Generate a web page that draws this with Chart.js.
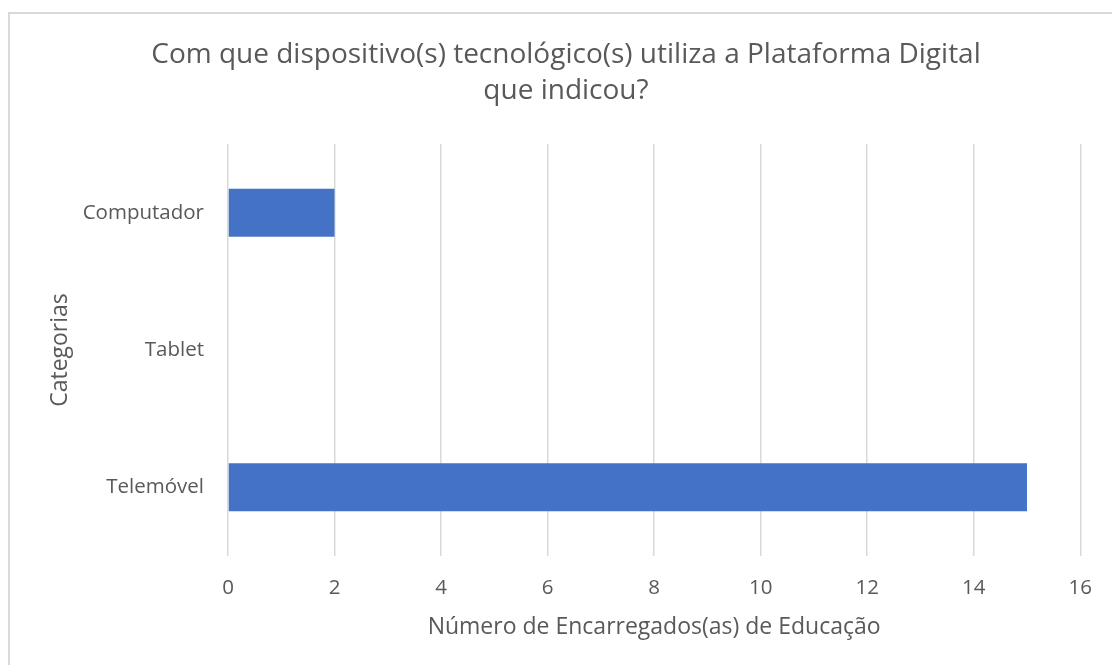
<!DOCTYPE html>
<html>
<head>
<meta charset="utf-8">
<script src="https://cdn.jsdelivr.net/npm/chart.js@4"></script>
<style>
  html, body { margin: 0; padding: 0; background: #fff; }
  .wrap { position: relative; width: 1112px; height: 665px; overflow: hidden; }
  .frame { position: absolute; left: 8px; top: 12px; width: 1200px; height: 800px;
           border-left: 2px solid #d9d9d9; border-top: 2px solid #d9d9d9; }
  canvas { position: absolute; left: 0; top: 0; }
</style>
</head>
<body>
<div class="wrap">
  <div class="frame"></div>
  <canvas id="deviceChart" width="1112" height="665"></canvas>
</div>
<script>
const categories = ['Computador', 'Tablet', 'Telemóvel'];
const counts = [2, 0, 15];
const titleLines = ['Com que dispositivo(s) tecnológico(s) utiliza a Plataforma Digital', 'que indicou?'];
const xTitle = 'Número de Encarregados(as) de Educação';
const yTitle = 'Categorias';

const textColor = '#595959';
const fontFamily = '"Open Sans", sans-serif';

const canvas = document.getElementById('deviceChart');

new Chart(canvas, {
    type: 'bar',
    data: {
        labels: categories,
        datasets: [{
            data: counts,
            backgroundColor: '#4472C4',
            borderWidth: 0,
            categoryPercentage: 1,
            barPercentage: 0.35
        }]
    },
    options: {
        indexAxis: 'y',
        responsive: false,
        animation: false,
        // left padding shifts the title centre to match the original
        layout: { padding: { left: 48, right: 28, top: 0, bottom: 0 } },
        plugins: {
            legend: { display: false },
            tooltip: { enabled: false },
            title: {
                display: true,
                text: titleLines,
                color: textColor,
                font: { family: fontFamily, size: 28, weight: 'normal', lineHeight: 1.286 },
                padding: { top: 37, bottom: 35 }
            }
        },
        scales: {
            x: {
                min: 0,
                max: 16,
                ticks: { stepSize: 2, color: textColor, padding: 20, font: { family: fontFamily, size: 20.5 } },
                grid: { color: '#d9d9d9', lineWidth: 1.5, drawTicks: false },
                border: { display: false },
                title: {
                    display: true,
                    text: xTitle,
                    color: textColor,
                    font: { family: fontFamily, size: 23 },
                    padding: { top: 0, bottom: 24 }
                },
                afterFit: scale => { scale.height = 109; }
            },
            y: {
                ticks: { color: textColor, padding: 24, font: { family: fontFamily, size: 20.5 } },
                grid: { display: false, drawTicks: false },
                border: { display: false },
                title: {
                    display: true,
                    text: yTitle,
                    color: textColor,
                    font: { family: fontFamily, size: 23, lineHeight: 1 },
                    padding: { top: 0.5, bottom: 0 }
                },
                afterFit: scale => { scale.width = 180; }
            }
        }
    }
});
</script>
</body>
</html>
